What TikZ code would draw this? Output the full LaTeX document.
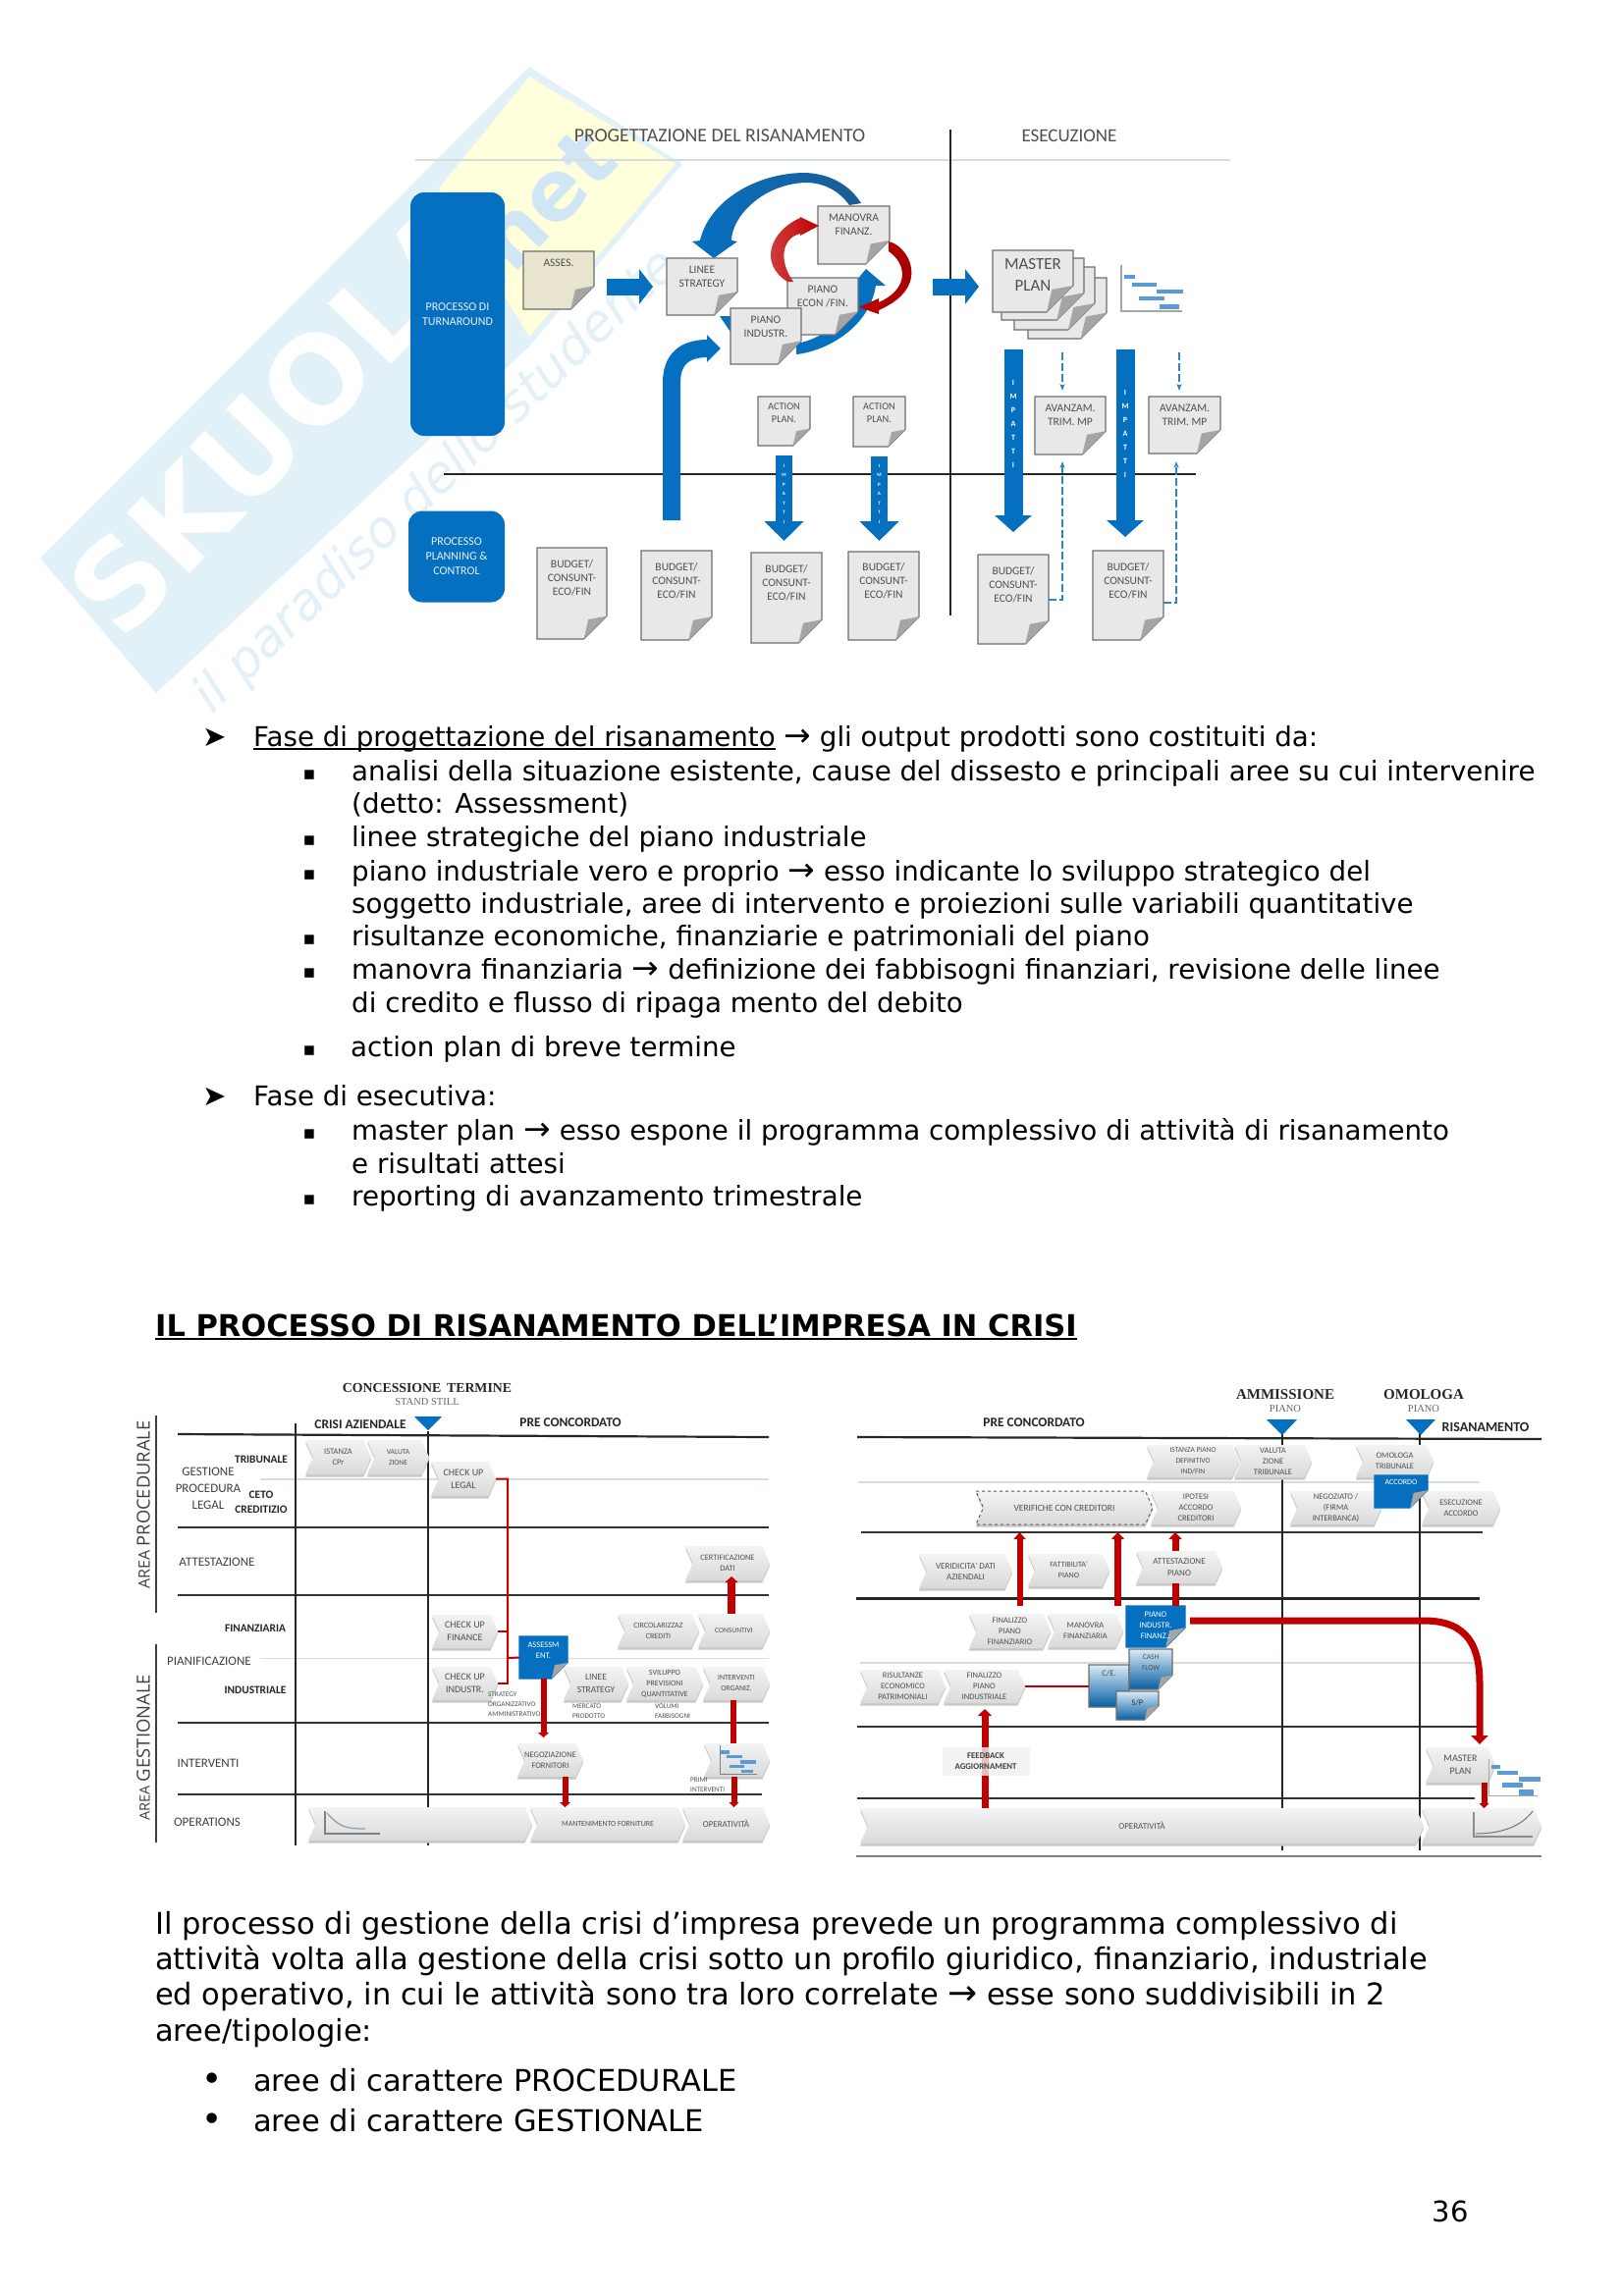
\documentclass[tikz,border=0pt]{standalone}
\usepackage{fontspec}
\setmainfont{DejaVu Sans}
\setsansfont{Carlito}
\newfontfamily\capfont{Liberation Serif}
\newfontfamily\areafont{Open Sans}
\usepackage{xcolor}
\usepackage{tikz}
\usetikzlibrary{positioning,arrows.meta,calc}
\definecolor{wmblue}{RGB}{226,240,248}
\definecolor{wmletter}{RGB}{208,230,244}
\definecolor{wmyellow}{RGB}{255,255,219}
\definecolor{diagblue}{RGB}{5,112,192}
\definecolor{arcdark}{RGB}{28,92,148}
\definecolor{riskred}{RGB}{192,0,0}
\definecolor{sheetgrey}{RGB}{232,232,232}
\definecolor{sheetline}{RGB}{110,110,110}
\definecolor{foldgrey}{RGB}{165,165,165}
\definecolor{assessfill}{RGB}{232,228,206}
\definecolor{chevtop}{RGB}{243,243,243}
\definecolor{chevbot}{RGB}{218,218,218}
\definecolor{chevshade}{RGB}{200,200,200}
\definecolor{diagtext}{RGB}{80,80,80}
\definecolor{ruleline}{RGB}{215,220,222}
\definecolor{barblue}{RGB}{90,155,213}

\newcommand{\fsz}[1]{\fontsize{#1}{12.5}\selectfont}
\newcommand{\lowunder}[1]{\setbox0=\hbox{#1}\rlap{\rule[-4pt]{\wd0}{1.6pt}}\box0\relax}
\newcommand{\bigarrow}{{\fontsize{33}{34}\selectfont →}}

% sheet with the folded corner: path options, text options, name, x1, y1, x2, y2, text
\NewDocumentCommand{\papersheet}{O{} O{} m m m m m m}{%
  \pgfmathsetmacro{\foldsize}{0.33*(#6-#4)}%
  \pgfmathsetmacro{\textdrop}{0.13*(#7-#5)}%
  \path[sheetbody,#1] (#4,#5) -- (#6,#5) -- (#6,#7-\foldsize) -- (#6-\foldsize,#7) -- (#4,#7) -- cycle;
  \fill[foldgrey] (#6,#7-\foldsize) -- (#6-\foldsize,#7) -- (#6-0.8*\foldsize,#7-0.85*\foldsize) -- cycle;
  \node[boxframe, minimum width={(#6-#4)*1pt}, minimum height={(#7-#5)*1pt}] (#3) at ({(#4+#6)/2},{(#5+#7)/2}) {};
  \node[sheettext, anchor=north, #2] (#3text) at ([yshift=-\textdrop pt]#3.north) {#8};
}
% chevron of the time lines: path options, text options, name, x1, y1, x2, y2, text
\NewDocumentCommand{\chevbox}{O{} O{} m m m m m m}{%
  \pgfmathsetmacro{\tipsize}{0.22*(#7-#5)}%
  \fill[chevshade, yshift=-2.5pt] (#4,#5) -- (#6-\tipsize,#5) -- (#6,{(#5+#7)/2}) -- (#6-\tipsize,#7) -- (#4,#7) -- (#4+\tipsize,{(#5+#7)/2}) -- cycle;
  \path[top color=chevtop, bottom color=chevbot, #1] (#4,#5) -- (#6-\tipsize,#5) -- (#6,{(#5+#7)/2}) -- (#6-\tipsize,#7) -- (#4,#7) -- (#4+\tipsize,{(#5+#7)/2}) -- cycle;
  \node[boxframe, chevtext, minimum width={(#6-#4)*1pt}, minimum height={(#7-#5)*1pt}, #2] (#3) at ({(#4+#6)/2},{(#5+#7)/2}) {#8};
}

\begin{document}
\begin{tikzpicture}[
    x=1pt, y=-1pt,
    sz/.style={font=\sffamily\fontsize{#1}{11}\selectfont},
    sheetbody/.style={fill=sheetgrey, draw=sheetline, line width=1.1pt},
    boxframe/.style={inner sep=0pt, outer sep=0pt},
    sheettext/.style={inner sep=0pt, align=center, font=\sffamily\fontsize{11.5}{14}\selectfont, text=diagtext},
    chevtext/.style={align=center, sz=8.5, text=diagtext},
    bodyline/.style={anchor=base west, inner sep=0pt, font=\fontsize{27.7}{34}\selectfont},
    bodylarge/.style={anchor=base west, inner sep=0pt, font=\fontsize{30.5}{36}\selectfont},
    bulletmark/.style={anchor=base, inner sep=0pt, font=\fontsize{29}{34}\selectfont},
    squaremark/.style={anchor=base, inner sep=0pt, font=\fontsize{19}{34}\selectfont},
    rowlabel/.style={inner sep=0pt, align=center, font=\sffamily\fsz{13}, text=black!75},
    rowbold/.style={inner sep=0pt, align=center, font=\sffamily\bfseries\fsz{11.4}, text=black!85},
    headbold/.style={inner sep=0pt, font=\sffamily\bfseries\fsz{13.4}, text=black!85},
    milestone/.style={inner sep=0pt, font=\capfont\bfseries\fsz{13.8}, text=black!85},
    milesub/.style={inner sep=0pt, font=\capfont\fsz{10.5}, text=black!60},
    smallnote/.style={anchor=west, inner sep=0pt, font=\sffamily\fontsize{7.2}{10}\selectfont, text=diagtext},
    tablerule/.style={line width=1.5pt, draw=black!80},
    softrule/.style={line width=1.5pt, draw=ruleline},
    phasebox/.style={fill=diagblue, rounded corners=14pt, inner sep=0pt, align=center, font=\sffamily\fontsize{12}{15}\selectfont, text=white!90!diagblue},
    impatti/.style={inner sep=0pt, align=center, text=white, text width=8pt},
    bluearrow/.style n args={3}{draw=diagblue, line width=#1, -{Triangle[length=#2, width=#3]}},
    redarrow/.style n args={3}{draw=riskred, line width=#1, -{Triangle[length=#2, width=#3]}},
    redbar/.style={draw=riskred, line width=#1},
    dashblue/.style={draw=diagblue!85!white, line width=2pt, dash pattern=on 8pt off 3pt, -{Stealth[length=7pt]}},
    milemark/.style={fill=diagblue}
  ]
  \path[use as bounding box, fill=white] (0,0) rectangle (1653,2339);

  % watermark
  \fill[wmblue] (41,569) -- (539,68) -- (695,167) -- (539,353) -- (159,706) -- cycle;
  \fill[wmyellow] (539,78) -- (688,167) -- (539,343) -- (447,192) -- cycle;
  \node[rotate=46, inner sep=0pt, text=white, font=\bfseries\fontsize{122}{122}\selectfont] (wmname) at (285,425) {SKUOLA};
  \node[rotate=46, inner sep=0pt, text=wmletter, font=\bfseries\fontsize{85}{85}\selectfont] (wmnet) at (545,215) {.net};
  \node[rotate=43.6, inner sep=0pt, text=wmletter!60!white, font=\itshape\fontsize{52}{52}\selectfont] (wmslogan) at (445,491) {il paradiso dello studente};

  % upper diagram
  \node[inner sep=0pt, font=\sffamily\fsz{19.8}, text=diagtext] (headprog) at (733,138) {PROGETTAZIONE DEL RISANAMENTO};
  \node[inner sep=0pt, font=\sffamily\fsz{19}, text=diagtext] (headesec) at (1089,138) {ESECUZIONE};
  \coordinate (ruleL) at (423,163);
  \coordinate (ruleR) at (1253,163);
  \draw[softrule] (ruleL) -- (ruleR);
  \coordinate (splitT) at (968,132);
  \coordinate (splitB) at (968,627);
  \draw[line width=2.4pt, draw=black!85] (splitT) -- (splitB);
  \coordinate (levelL) at (452,483);
  \coordinate (levelR) at (1218,483);
  \draw[line width=2.4pt, draw=black!85] (levelL) -- (levelR);

  \node[phasebox, minimum width=96pt, minimum height=248pt] (turnaround) at (466,320) {PROCESSO DI\\TURNAROUND};
  \node[phasebox, minimum width=98pt, minimum height=93pt] (planning) at (465,567) {PROCESSO\\PLANNING \&\\CONTROL};

  % cycle round the plan
  \fill[diagblue] (733,322) -- (746,322) -- (746,341) -- cycle;
  \path[left color=diagblue, right color=arcdark] (877,207) .. controls (865,188) and (845,177) .. (820,176) .. controls (770,176) and (722,205) .. (713,245) -- (705,246) -- (727,263) -- (751,246) -- (745,245) .. controls (745,222) and (775,188) .. (820,186) .. controls (840,186) and (855,195) .. (865,209) -- cycle;
  \fill[diagblue] (811,361) .. controls (840,358) and (885,335) .. (892,291) -- (902,291) -- (882,274) -- (868,291) -- (874,291) .. controls (872,320) and (840,345) .. (811,350) -- cycle;

  \papersheet[fill=assessfill]{asses}{533}{256}{605}{315}{ASSES.}
  \papersheet{linee}{679}{263}{751}{321}{LINEE\\STRATEGY}
  \papersheet{manovra}{833}{210}{906}{269}{MANOVRA\\FINANZ.}
  \papersheet{econ}{802}{283}{874}{341}{PIANO\\ECON /FIN.}
  \papersheet{pianoind}{744}{314}{816}{371}{PIANO\\INDUSTR.}

  \path[left color=riskred!70!white, right color=riskred] (802,287) .. controls (772,268) and (785,235) .. (815,222) -- (815,221) -- (834,230) -- (815,240) -- (815,238) .. controls (797,242) and (792,265) .. (808,287) -- cycle;
  \path[left color=riskred, right color=riskred!80!black] (905,246) .. controls (925,250) and (950,292) .. (895,316) -- (895,320) -- (875,313) -- (895,304) -- (895,308) .. controls (925,295) and (925,270) .. (905,256) -- cycle;

  \foreach \nm/\xa/\ya/\xb/\yb in {mpbackC/1047/283/1127/345, mpbackB/1033/272/1115/336, mpbackA/1020/263/1104/326}
    \papersheet{\nm}{\xa}{\ya}{\xb}{\yb}{};
  \papersheet[][font=\sffamily\fontsize{17}{22}\selectfont]{masterplan}{1011}{255}{1093}{318}{MASTER\\PLAN}

  \foreach \xa/\ya/\xb/\yb in {1145/280/1156/284, 1153/288/1178/292, 1178/294.5/1205/299, 1160/302/1186/306, 1181/310/1201/315}
    \fill[barblue] (\xa,\ya) rectangle (\xb,\yb);
  \draw[line width=1.2pt, draw=black!35] (1142,270) -- (1142,317) -- (1204,317);

  \papersheet[][font=\sffamily\fontsize{10.4}{13}\selectfont]{actionA}{772}{404}{825}{454}{ACTION\\PLAN.}
  \papersheet[][font=\sffamily\fontsize{10.4}{13}\selectfont]{actionB}{869}{404}{922}{455}{ACTION\\PLAN.}
  \papersheet{avanzamA}{1054}{404}{1126}{463}{AVANZAM.\\TRIM. MP}
  \papersheet{avanzamB}{1170}{404}{1243}{462}{AVANZAM.\\TRIM. MP}
  \foreach \nm/\xa/\ya/\xb/\yb in {budgetA/547/558/618/651, budgetB/653/561/725/652, budgetC/765/563/837/655, budgetD/864/562/936/652, budgetE/996/565/1068/656, budgetF/1113/561/1185/652}
    \papersheet{\nm}{\xa}{\ya}{\xb}{\yb}{BUDGET/\\CONSUNT-\\ECO/FIN};

  \draw[bluearrow={17pt}{14pt}{35pt}, shorten <=13pt, shorten >=14pt] (asses.east |- linee.west) -- (linee.west);
  \coordinate (esecin) at (950,292);
  \draw[bluearrow={17pt}{14pt}{35pt}, shorten >=14pt] (esecin) -- (esecin -| masterplan.west);
  \draw[bluearrow={18pt}{14pt}{27pt}, shorten <=31pt] ([xshift=-5pt]budgetB.north) -- (684,390) .. controls (684,368) and (695,355) .. (734,355);
  \draw[bluearrow={17pt}{20pt}{39pt}, shorten <=10pt, shorten >=12pt] (actionA.south) -- (actionA.south |- budgetC.north) node[impatti, pos=.45, font=\sffamily\bfseries\fontsize{5}{9.5}\selectfont] (impattiA) {I\\M\\P\\A\\T\\T\\I};
  \draw[bluearrow={17pt}{20pt}{39pt}, shorten <=10pt, shorten >=11pt] (actionB.south) -- (actionB.south |- budgetD.north) node[impatti, pos=.45, font=\sffamily\bfseries\fontsize{5}{9.5}\selectfont] (impattiB) {I\\M\\P\\A\\T\\T\\I};
  \draw[bluearrow={19pt}{17pt}{37pt}, shorten <=20pt, shorten >=23pt] (budgetE.north |- mpbackB.south) -- (budgetE.north) node[impatti, pos=.42, font=\sffamily\bfseries\fontsize{8}{14}\selectfont] (impattiC) {I\\M\\P\\A\\T\\T\\I};
  \draw[bluearrow={19pt}{17pt}{37pt}, shorten <=11pt, shorten >=14pt] ([xshift=-3pt]budgetF.north |- mpbackC.south) -- ([xshift=-3pt]budgetF.north) node[impatti, pos=.45, font=\sffamily\bfseries\fontsize{8}{14}\selectfont] (impattiD) {I\\M\\P\\A\\T\\T\\I};

  \draw[dashblue] (budgetE.east) -| ([xshift=-8pt,yshift=-7pt]avanzamA.south);
  \draw[dashblue] ([yshift=-7pt]budgetF.east) -| ([xshift=-8.5pt,yshift=-8pt]avanzamB.south);
  \coordinate (trimA) at (1082,359);
  \coordinate (trimB) at (1201,359);
  \draw[dashblue] (trimA) -- ([yshift=6pt]trimA |- avanzamA.north);
  \draw[dashblue] (trimB) -- ([yshift=6pt]trimB |- avanzamB.north);

  % lower left diagram
  \node[milestone] (concessione) at (435,1414) {CONCESSIONE\, TERMINE};
  \node[milesub] (standstill) at (435,1428) {STAND STILL};
  \node[headbold] (crisi) at (367,1451) {CRISI AZIENDALE};
  \node[headbold] (preL) at (581,1449) {PRE CONCORDATO};
  \node[rotate=90, inner sep=0pt, font=\areafont, text=black!75] (areaproc) at (146,1533) {\fontsize{16}{16}\selectfont AREA {\fontsize{18.3}{18}\selectfont PROCEDURALE}};
  \node[rotate=90, inner sep=0pt, font=\areafont, text=black!75] (areagest) at (146,1780) {\fontsize{14.5}{16}\selectfont AREA {\fontsize{18.5}{18}\selectfont GESTIONALE}};
  \coordinate (procT) at (159,1442);
  \coordinate (procB) at (159,1643);
  \coordinate (gestT) at (159,1675);
  \coordinate (gestB) at (159,1877);
  \draw[line width=1.8pt, draw=black!75] (procT) -- (procB);
  \draw[line width=1.8pt, draw=black!75] (gestT) -- (gestB);

  \foreach \ya/\xb in {1556/783, 1625/783, 1755/783, 1828/776}
    \draw[tablerule] (181,\ya) -- (\xb,\ya);
  \draw[line width=2.2pt, draw=black!85] (181,1461) -- (783,1464);
  \draw[softrule] (265,1507) -- (783,1507);
  \draw[line width=.8pt, draw=ruleline] (265,1689) -- (783,1689);
  \draw[line width=1.6pt, draw=black!85] (301,1450) -- (301,1880);
  \draw[line width=1.6pt, draw=black!85] (436,1458) -- (436,1880);
  \fill[milemark] (422,1443) -- (450,1443) -- (436,1457) -- cycle;

  \node[rowbold] (tribunale) at (266,1487) {TRIBUNALE};
  \node[rowlabel] (gestione) at (212,1516) {GESTIONE\\[4.5pt]PROCEDURA\\[4.5pt]LEGAL};
  \node[rowbold] (ceto) at (266,1523) {CETO};
  \node[rowbold] (creditizio) at (266,1538) {CREDITIZIO};
  \node[rowlabel] (attestazione) at (221,1591) {ATTESTAZIONE};
  \node[rowbold] (finanziaria) at (260,1659) {FINANZIARIA};
  \node[rowlabel] (pianificazione) at (213,1692) {PIANIFICAZIONE};
  \node[rowbold] (industriale) at (260,1722) {INDUSTRIALE};
  \node[rowlabel] (interventi) at (212,1796) {INTERVENTI};
  \node[rowlabel] (operations) at (211,1856) {OPERATIONS};

  \chevbox{istanza}{311}{1467}{378}{1502}{ISTANZA\\CPr}
  \chevbox[][sz=7.5]{valutaL}{374}{1467}{437}{1502}{VALUTA\\ZIONE}
  \chevbox[][font=\sffamily\fontsize{10}{13}\selectfont]{checklegal}{439}{1489}{505}{1524}{CHECK UP\\LEGAL}
  \chevbox[][sz=8.3]{certif}{698}{1575}{784}{1610}{CERTIFICAZIONE\\DATI}
  \chevbox[][font=\sffamily\fontsize{10}{13}\selectfont]{checkfin}{440}{1645}{507}{1679}{CHECK UP\\FINANCE}
  \chevbox[][sz=8]{circol}{629}{1644}{712}{1678}{CIRCOLARIZZAZ\\CREDITI}
  \chevbox[][sz=7.5]{consuntivi}{711}{1644}{784}{1678}{CONSUNTIVI}
  \chevbox[][font=\sffamily\fontsize{10}{13}\selectfont]{checkind}{440}{1698}{507}{1732}{CHECK UP\\INDUSTR.}
  \chevbox[][font=\sffamily\fontsize{9.5}{13}\selectfont]{lineeL}{574}{1698}{640}{1732}{LINEE\\STRATEGY}
  \chevbox[][sz=8]{sviluppo}{638}{1698}{716}{1732}{SVILUPPO\\PREVISIONI\\QUANTITATIVE}
  \chevbox[][sz=7.8]{intervorg}{716}{1698}{784}{1732}{INTERVENTI\\ORGANIZ.}
  \chevbox[][sz=8.5]{negoz}{527}{1776}{594}{1810}{NEGOZIAZIONE\\FORNITORI}
  \chevbox{ganttchev}{717}{1776}{784}{1810}{}
  \chevbox{opsL}{314}{1841}{542}{1875}{}
  \chevbox[][sz=7.8]{manten}{540}{1841}{698}{1875}{MANTENIMENTO FORNITURE}
  \chevbox[][sz=9]{operL}{695}{1841}{784}{1875}{OPERATIVITÀ}
  \papersheet[fill=diagblue, draw=diagblue][sz=8.5, text=white]{assess}{529}{1667}{578}{1710}{ASSESSM\\ENT.}

  \draw[line width=1.2pt, draw=black!50] (331,1845) -- (331,1868) -- (387,1868);
  \draw[line width=1.2pt, draw=barblue!60!black!60] (333,1847) .. controls (345,1860) and (350,1863) .. (372,1863);
  \foreach \xa/\ya/\xb/\yb in {734/1783/743/1787, 740/1788/756/1791, 754/1793/770/1797, 743/1798/758/1801, 755/1803/767/1806}
    \fill[barblue] (\xa,\ya) rectangle (\xb,\yb);
  \draw[line width=.8pt, draw=black!50] (733,1778) -- (733,1807) -- (771,1807);

  \node[smallnote, align=left] (strategy) at (497,1736) {STRATEGY\\ORGANIZZATIVO\\AMMINISTRATIVO};
  \node[smallnote, align=left] (mercato) at (583,1743) {MERCATO\\PRODOTTO};
  \node[smallnote, align=left] (volumi) at (667,1743) {VOLUMI\\FABBISOGNI};
  \node[smallnote, align=left] (primi) at (703,1818) {PRIMI\\INTERVENTI};

  \coordinate (busjoin) at (517,1689);
  \draw[redbar=2pt] (checklegal.east) -| (busjoin) -- (assess.west);
  \draw[redbar=2pt] (checkfin.east) -| (busjoin);
  \draw[redbar=2pt] (checkind.east) -| (busjoin);
  \draw[redarrow={8pt}{6pt}{13pt}] ([xshift=-2.5pt]consuntivi.north) -- ([xshift=-2.5pt,yshift=4pt]consuntivi.north |- certif.south);
  \draw[redarrow={6pt}{5pt}{11pt}, shorten >=6pt] (assess.south) -- (assess.south |- negoz.north);
  \draw[redarrow={6pt}{5pt}{11pt}] ([xshift=15pt]negoz.south) -- ([xshift=15pt]negoz.south |- manten.north);
  \draw[redbar=6pt] ([xshift=-3pt]intervorg.south) -- ([xshift=-3pt]intervorg.south |- ganttchev.north);
  \draw[redarrow={6pt}{5pt}{10pt}] ([xshift=-3pt]ganttchev.south) -- ([xshift=-3pt]ganttchev.south |- operL.north);

  % lower right diagram
  \node[milestone, font=\capfont\bfseries\fsz{15}] (ammissione) at (1309,1421) {AMMISSIONE};
  \node[milesub] (pianoA) at (1309,1435) {PIANO};
  \node[milestone, font=\capfont\bfseries\fsz{15}] (omologa) at (1450,1421) {OMOLOGA};
  \node[milesub] (pianoB) at (1450,1435) {PIANO};
  \node[headbold] (preR) at (1053,1449) {PRE CONCORDATO};
  \node[headbold, font=\sffamily\bfseries\fsz{14}] (risanamento) at (1513,1454) {RISANAMENTO};

  \draw[line width=2.2pt, draw=black!85] (873,1464) -- (1570,1466);
  \foreach \xa/\ya/\xb in {877/1561/1510, 873/1759/1509, 873/1832/1502}
    \draw[tablerule] (\xa,\ya) -- (\xb,\ya);
  \draw[line width=3pt, draw=black!85] (872,1628) -- (1507,1628);
  \draw[softrule] (874,1510) -- (1507,1510);
  \draw[softrule] (876,1694) -- (1507,1694);
  \draw[line width=1.5pt, draw=black!50] (872,1891) -- (1570,1891);
  \draw[line width=1.6pt, draw=black!85] (1306,1460) -- (1306,1885);
  \draw[line width=1.6pt, draw=black!85] (1446,1460) -- (1446,1885);
  \fill[milemark] (1290,1446) -- (1321,1446) -- (1306,1462) -- cycle;
  \fill[milemark] (1432,1446) -- (1462,1446) -- (1447,1462) -- cycle;

  \chevbox[][sz=7.5]{istanzaR}{1168}{1472}{1262}{1505}{ISTANZA PIANO\\DEFINITIVO\\IND/FIN}
  \chevbox{valutaR}{1257}{1472}{1336}{1505}{VALUTA\\ZIONE\\TRIBUNALE}
  \chevbox{omolog}{1381}{1472}{1460}{1505}{OMOLOGA\\TRIBUNALE}
  \chevbox[draw=black!65, dashed, line width=1pt][sz=9.5]{verifiche}{994}{1519}{1174}{1553}{VERIFICHE CON CREDITORI}
  \chevbox{ipotesi}{1172}{1519}{1264}{1553}{IPOTESI\\ACCORDO\\CREDITORI}
  \chevbox{negoziato}{1314}{1519}{1407}{1553}{NEGOZIATO /\\(FIRMA\\INTERBANCA)}
  \chevbox{esecuz}{1448}{1519}{1528}{1553}{ESECUZIONE\\ACCORDO}
  \chevbox[][sz=9]{veridic}{936}{1583}{1031}{1618}{VERIDICITA' DATI\\AZIENDALI}
  \chevbox[][sz=8]{fattib}{1047}{1583}{1130}{1616}{FATTIBILITA'\\PIANO}
  \chevbox[][font=\sffamily\fontsize{9}{12}\selectfont]{attest}{1157}{1580}{1245}{1613}{ATTESTAZIONE\\PIANO}
  \chevbox{finfin}{987}{1644}{1070}{1679}{FINALIZZO\\PIANO\\FINANZIARIO}
  \chevbox{manovraR}{1067}{1644}{1144}{1678}{MANOVRA\\FINANZIARIA}
  \chevbox{risult}{876}{1701}{963}{1735}{RISULTANZE\\ECONOMICO\\PATRIMONIALI}
  \chevbox{finind}{961}{1701}{1044}{1735}{FINALIZZO\\PIANO\\INDUSTRIALE}
  \chevbox[][font=\sffamily\fontsize{10}{13}\selectfont]{masterR}{1452}{1780}{1523}{1816}{MASTER\\PLAN}
  \chevbox[][sz=9]{opvR}{876}{1842}{1450}{1878}{OPERATIVITÀ}
  \chevbox{endchev}{1448}{1842}{1570}{1878}{}

  \papersheet[fill=diagblue, draw=diagblue][sz=8, text=white]{accordo}{1400}{1503}{1454}{1536}{ACCORDO}
  \papersheet[fill=diagblue, draw=diagblue][sz=8.5, text=white]{pianofin}{1147}{1636}{1207}{1678}{PIANO\\INDUSTR.\\FINANZ..}
  \papersheet[top color=white!85!diagblue, bottom color=diagblue!85!black][sz=8.5, text=black!70]{bilancio}{1109}{1696}{1150}{1739}{C/E.}
  \papersheet[top color=white!85!diagblue, bottom color=diagblue!85!black][sz=7.5, text=black!70]{cashflow}{1150}{1680}{1194}{1721}{CASH\\FLOW}
  \papersheet[top color=white!85!diagblue, bottom color=diagblue!85!black][sz=8.5, text=black!80]{statopatr}{1137}{1723}{1180}{1752}{\\S/P}

  \foreach \xa/\ya/\xb/\yb in {1519/1798/1528/1802, 1525/1804/1546/1808, 1547/1810/1569/1815, 1530/1816/1551/1821, 1547/1823/1562/1829}
    \fill[barblue] (\xa,\ya) rectangle (\xb,\yb);
  \draw[line width=1pt, draw=black!35] (1516,1792) -- (1516,1829) -- (1566,1829);
  \draw[line width=1.5pt, draw=black!45] (1501,1846) -- (1501,1871) -- (1561,1871);
  \draw[line width=1pt, draw=black!55] (1503,1868) .. controls (1530,1868) and (1550,1860) .. (1561,1845);

  \draw[redarrow={6pt}{7pt}{12pt}, shorten >=8pt] ([xshift=10pt,yshift=8pt]finfin.north) -- ([xshift=10pt]finfin.north |- verifiche.south);
  \draw[redarrow={7pt}{7pt}{13pt}, shorten >=8pt] ([xshift=33pt,yshift=8pt]manovraR.north) -- ([xshift=33pt]manovraR.north |- verifiche.south);
  \draw[redbar=7pt] ([xshift=20pt]pianofin.north) -- ([xshift=20pt]pianofin.north |- attest.south);
  \draw[redarrow={7pt}{7pt}{13pt}, shorten >=8pt] ([xshift=-4pt]attest.north) -- ([xshift=-4pt]attest.north |- ipotesi.south);
  \draw[redarrow={7pt}{7pt}{14pt}, shorten >=6pt] ([xshift=.5pt]finind.south |- opvR.north) -- ([xshift=.5pt]finind.south);
  \draw[redarrow={7pt}{9pt}{17pt}, shorten >=3pt] ([shift={(5pt,6pt)}]pianofin.east) -- (1450,1651) .. controls (1497,1651) and (1507,1680) .. (1507,1715) -- ([xshift=19.5pt]masterR.north);
  \draw[redarrow={6pt}{5pt}{10pt}] ([xshift=24pt]masterR.south) -- ([xshift=24pt]masterR.south |- endchev.north);
  \draw[redbar=2pt] (finind.east) -- ++(34,0) |- (bilancio.west);

  \node[inner sep=0pt, minimum width=89pt, minimum height=29pt, fill=white!94!black, fill opacity=.8, text opacity=1, align=center, font=\sffamily\bfseries\fontsize{8.8}{11}\selectfont, text=black!75] (feedback) at (1004,1794) {FEEDBACK\\AGGIORNAMENT};

  % page text
  \node[bulletmark] (arrowA) at (219,760) {➤};
  \node[bodyline] (faseA) at (258,760) {\lowunder{Fase di progettazione del risanamento} \bigarrow{} gli output prodotti sono costituiti da:};
  \foreach \ya in {795,862,897,963,997,1076,1161,1228}
    \node[squaremark] (square\ya) at (315,\ya-1) {▪};
  \node[bodyline] (lineA) at (358,795) {analisi della situazione esistente, cause del dissesto e principali aree su cui intervenire};
  \node[bodyline] (lineB) at (358,828) {(detto: Assessment)};
  \node[bodyline] (lineC) at (358,862) {linee strategiche del piano industriale};
  \node[bodyline] (lineD) at (358,897) {piano industriale vero e proprio \bigarrow{} esso indicante lo sviluppo strategico del};
  \node[bodyline] (lineE) at (358,930) {soggetto industriale, aree di intervento e proiezioni sulle variabili quantitative};
  \node[bodyline] (lineF) at (358,963) {risultanze economiche, finanziarie e patrimoniali del piano};
  \node[bodyline] (lineG) at (358,997) {manovra finanziaria \bigarrow{} definizione dei fabbisogni finanziari, revisione delle linee};
  \node[bodyline] (lineH) at (358,1031) {di credito e flusso di ripaga mento del debito};
  \node[bodyline] (lineI) at (357,1076) {action plan di breve termine};
  \node[bulletmark] (arrowB) at (219,1126) {➤};
  \node[bodyline] (faseB) at (258,1126) {Fase di esecutiva:};
  \node[bodyline] (lineJ) at (358,1161) {master plan \bigarrow{} esso espone il programma complessivo di attività di risanamento};
  \node[bodyline] (lineK) at (358,1195) {e risultati attesi};
  \node[bodyline] (lineL) at (358,1228) {reporting di avanzamento trimestrale};
  \node[bodylarge, font=\bfseries\fontsize{30.5}{36}\selectfont] (titolo) at (158,1361) {\lowunder{IL PROCESSO DI RISANAMENTO DELL’IMPRESA IN CRISI}};
  \node[bodylarge] (paraA) at (158,1970) {Il processo di gestione della crisi d’impresa prevede un programma complessivo di};
  \node[bodylarge] (paraB) at (158,2006) {attività volta alla gestione della crisi sotto un profilo giuridico, finanziario, industriale};
  \node[bodylarge] (paraC) at (158,2042) {ed operativo, in cui le attività sono tra loro correlate {\fontsize{36}{36}\selectfont →} esse sono suddivisibili in 2};
  \node[bodylarge] (paraD) at (158,2079) {aree/tipologie:};
  \node[bulletmark, font=\fontsize{36}{36}\selectfont] (dotA) at (216,2130) {•};
  \node[bodylarge] (areaA) at (258,2130) {aree di carattere PROCEDURALE};
  \node[bulletmark, font=\fontsize{36}{36}\selectfont] (dotB) at (216,2171) {•};
  \node[bodylarge] (areaB) at (258,2171) {aree di carattere GESTIONALE};
  \node[bulletmark] (pagenum) at (1477,2263) {36};
\end{tikzpicture}
\end{document}
